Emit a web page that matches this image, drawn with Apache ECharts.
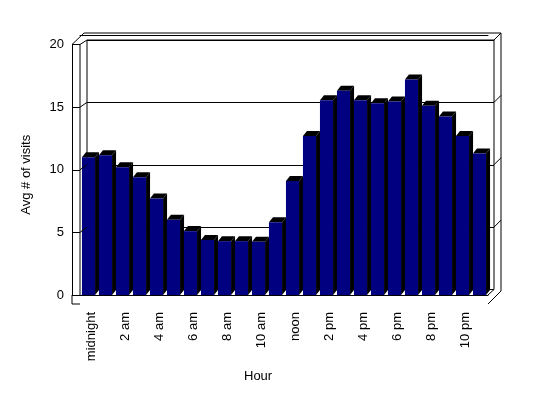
<!DOCTYPE html>
<html>
<head>
<meta charset="utf-8">
<script src="https://cdn.jsdelivr.net/npm/echarts@6/dist/echarts.min.js"></script>
<style>
  html, body { margin: 0; padding: 0; background: #fff; }
  #chart { width: 548px; height: 398px; }
</style>
</head>
<body>
<div id="chart"></div>
<script>
// 数据
const hours = [
  "midnight", "1 am", "2 am", "3 am", "4 am", "5 am", "6 am", "7 am", "8 am", "9 am", "10 am", "11 am",
  "noon", "1 pm", "2 pm", "3 pm", "4 pm", "5 pm", "6 pm", "7 pm", "8 pm", "9 pm", "10 pm", "11 pm"
];
const visits = [
  11.0, 11.15, 10.2, 9.4, 7.7, 6.0, 5.1, 4.4, 4.3, 4.3, 4.25, 5.8,
  9.1, 12.7, 15.55, 16.3, 15.55, 15.3, 15.45, 17.2, 15.1, 14.25, 12.7, 11.3
];
const yTicks = [0, 5, 10, 15, 20];

const FONT = "Liberation Sans, Arial, sans-serif";
const black = "#000";

const chart = echarts.init(document.getElementById("chart"));

// 3D 柱子：正面 + 顶面 + 侧面
const renderBar = (params, api) => {
  const top = api.coord([api.value(0), api.value(1)]);
  const base = api.coord([api.value(0), 0]);
  const w = api.size([1, 0])[0] * 0.77;
  const x0 = top[0] - w / 2;
  const x1 = top[0] + w / 2;
  const dx = 4, dy = -5;
  return {
    type: "group",
    children: [
      {
        type: "polygon",
        shape: { points: [[x1, top[1]], [x1 + dx, top[1] + dy], [x1 + dx, base[1] + dy], [x1, base[1]]] },
        style: { fill: black }
      },
      {
        type: "polygon",
        shape: { points: [[x0, top[1]], [x0 + dx, top[1] + dy], [x1 + dx, top[1] + dy], [x1, top[1]]] },
        style: { fill: black }
      },
      {
        type: "rect",
        shape: { x: x0, y: top[1], width: w, height: base[1] - top[1] },
        style: { fill: "#000080" }
      }
    ]
  };
};

chart.setOption({
  animation: false,
  backgroundColor: "#fff",
  textStyle: { fontFamily: FONT, color: black },
  grid: [
    // 前面（柱子）
    { left: 80, right: 60, top: 44.5, bottom: 103 },
    // 后墙
    { left: 87, right: 54, top: 40, bottom: 108.5, show: true, borderColor: black, borderWidth: 1, backgroundColor: "#fff", z: -1 },
    // 标签
    { left: 82.5, right: 57.5, top: 44.5, bottom: 103 }
  ],
  xAxis: [
    {
      gridIndex: 0, type: "category", data: hours, z: 5,
      axisLine: { lineStyle: { color: black } },
      axisTick: { show: false }, axisLabel: { show: false }
    },
    {
      gridIndex: 0, type: "category", data: hours, offset: 9,
      axisLine: { lineStyle: { color: black } },
      axisTick: { inside: true, length: 9, lineStyle: { color: black }, interval: 0 },
      axisLabel: { show: false }
    },
    { gridIndex: 1, type: "value", show: false },
    {
      gridIndex: 2, type: "category", data: hours, offset: 9,
      axisLine: { show: false }, axisTick: { show: false },
      axisLabel: { interval: 1, rotate: 90, margin: 8, fontSize: 13, fontFamily: FONT, color: black }
    }
  ],
  yAxis: [
    {
      gridIndex: 0, type: "value", min: 0, max: 20, interval: 5, offset: 8,
      name: "Avg # of visits", nameLocation: "middle", nameGap: 39,
      nameTextStyle: { fontSize: 13, fontFamily: FONT, color: black, padding: [0, 10, 0, 0] },
      axisLine: { show: true, lineStyle: { color: black } },
      axisTick: { show: true, inside: true, length: 8, lineStyle: { color: black } },
      axisLabel: { margin: 8, fontSize: 13, fontFamily: FONT, color: black },
      splitLine: { show: false }
    },
    {
      gridIndex: 1, type: "value", min: 0, max: 20, interval: 5,
      axisLine: { show: false }, axisTick: { show: false }, axisLabel: { show: false },
      splitLine: { show: true, lineStyle: { color: black, width: 1 } }
    },
    { gridIndex: 2, type: "value", min: 0, max: 20, show: false }
  ],
  series: [
    {
      type: "custom",
      xAxisIndex: 0, yAxisIndex: 0,
      renderItem: renderBar,
      data: visits.map((v, i) => [i, v]),
      z: 3
    }
  ]
});

// 框架线（墙、地板）
const yf = v => chart.convertToPixel({ yAxisIndex: 0 }, v);
const yb = v => chart.convertToPixel({ yAxisIndex: 1 }, v);
const seg = (x1, y1, x2, y2) => ({
  type: "line", silent: true, z: 10,
  shape: { x1, y1, x2, y2 },
  style: { stroke: black, lineWidth: 1 }
});

const fTop = yf(20), fBase = yf(0), bTop = yb(20), bBase = yb(0);
const lines = [
  seg(72, fBase, 72, fBase + 9),
  seg(72, fBase + 9, 80, fBase + 9),
  seg(80, fTop, 80, fBase),
  seg(72, fTop, 80, fTop),
  seg(80, fTop, 87, bTop),
  seg(72, fTop, 84, 33),
  seg(84, 33, 501, 33),
  seg(501, 33, 501, 291),
  seg(494, bTop, 501, 33),
  seg(488, fBase + 9, 501, 291),
  seg(488, fBase, 494, bBase)
];
[5, 10, 15].forEach(v => {
  lines.push(seg(80, yf(v), 87, yb(v)));
  lines.push(seg(494, yb(v), 501, yb(v) - 7));
});

chart.setOption({
  graphic: lines.concat([
    {
      type: "text", left: 244, top: 370, z: 10,
      style: { text: "Hour", font: "13px " + FONT, fill: black }
    }
  ])
});
</script>
</body>
</html>
